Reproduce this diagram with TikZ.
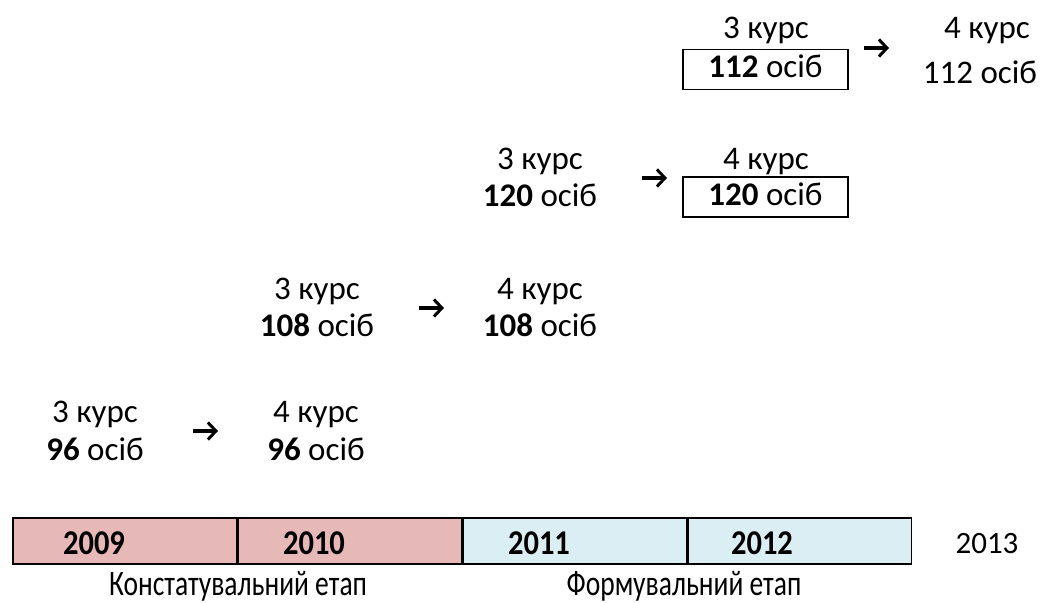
\documentclass[tikz,border=0pt]{standalone}
\usepackage{fontspec}
\setmainfont{Carlito}
\usetikzlibrary{arrows.meta}
\definecolor{pinkcell}{RGB}{230,185,184}
\definecolor{bluecell}{RGB}{219,238,244}
\newcommand{\tall}[2]{\scalebox{1}[#1]{#2}}
\tikzset{
  txt/.style={inner sep=0pt, font=\fontsize{33}{36}\selectfont, text height=23pt, text depth=7pt, anchor=center},
  yr/.style={inner sep=0pt, font=\fontsize{30.5}{32}\selectfont\bfseries, anchor=base},
  lbl/.style={inner sep=0pt, font=\fontsize{27.5}{30}\selectfont, anchor=base},
  cell/.style={draw=black, line width=1.6pt, minimum width=223.5pt, minimum height=46pt, inner sep=0pt, anchor=north west},
  boxed/.style={draw=black, line width=1.5pt, minimum width=165pt, minimum height=40pt, inner sep=0pt},
  arr/.style={line width=3.2pt, -{Straight Barb[length=8pt,width=17pt,line width=3pt]}},
}
\begin{document}
\begin{tikzpicture}[x=1pt,y=-1pt]
\useasboundingbox (0,0) rectangle (1046,602);
% timeline cells
\node[cell, fill=pinkcell] (c1) at (12,517) {};
\node[cell, fill=pinkcell] (c2) at (c1.north east) {};
\node[cell, fill=bluecell] (c3) at (c2.north east) {};
\node[cell, fill=bluecell] (c4) at (c3.north east) {};
\node[yr] (y1) at (94,554) {\tall{1.14}{2009}};
\node[yr] (y2) at (314,554) {\tall{1.14}{2010}};
\node[yr] (y3) at (539,554) {\tall{1.14}{2011}};
\node[yr] (y4) at (762,554) {\tall{1.14}{2012}};
\node[lbl, font=\fontsize{31}{33}\selectfont] (y5) at (987,553) {2013};
\node[lbl] (e1) at (238,595) {\tall{1.3}{Констатувальний етап}};
\node[lbl] (e2) at (684,595) {\tall{1.3}{Формувальний етап}};
% row 1
\node[txt] (a1) at (95,414) {3 курс};
\node[txt] (a2) at (95,452) {\textbf{96} осіб};
\node[txt] (b1) at (316,414) {4 курс};
\node[txt] (b2) at (316,452) {\textbf{96} осіб};
\coordinate (p1) at (193,431); \coordinate (q1) at (218,431);
\draw[arr] (p1) -- (q1);
% row 2
\node[txt] (a3) at (317,291) {3 курс};
\node[txt] (a4) at (317,328) {\textbf{108} осіб};
\node[txt] (b3) at (540,291) {4 курс};
\node[txt] (b4) at (540,328) {\textbf{108} осіб};
\coordinate (p2) at (419,308); \coordinate (q2) at (444,308);
\draw[arr] (p2) -- (q2);
% row 3
\node[txt] (a5) at (540,161) {3 курс};
\node[txt] (a6) at (540,198) {\textbf{120} осіб};
\node[txt] (b5) at (766,161) {4 курс};
\node[boxed] (bx1) at (765.5,197) {};
\node[txt] (b6) at (bx1.center) {\textbf{120} осіб};
\coordinate (p3) at (642,178); \coordinate (q3) at (667,178);
\draw[arr] (p3) -- (q3);
% row 4
\node[txt] (a7) at (766,31) {3 курс};
\node[boxed] (bx2) at (765.5,69.5) {};
\node[txt] (a8) at (bx2.center) {\textbf{112} осіб};
\node[txt] (b7) at (987,31) {4 курс};
\node[txt] (b8) at (980,75) {112 осіб};
\coordinate (p4) at (864,48); \coordinate (q4) at (889,48);
\draw[arr] (p4) -- (q4);
\end{tikzpicture}
\end{document}
